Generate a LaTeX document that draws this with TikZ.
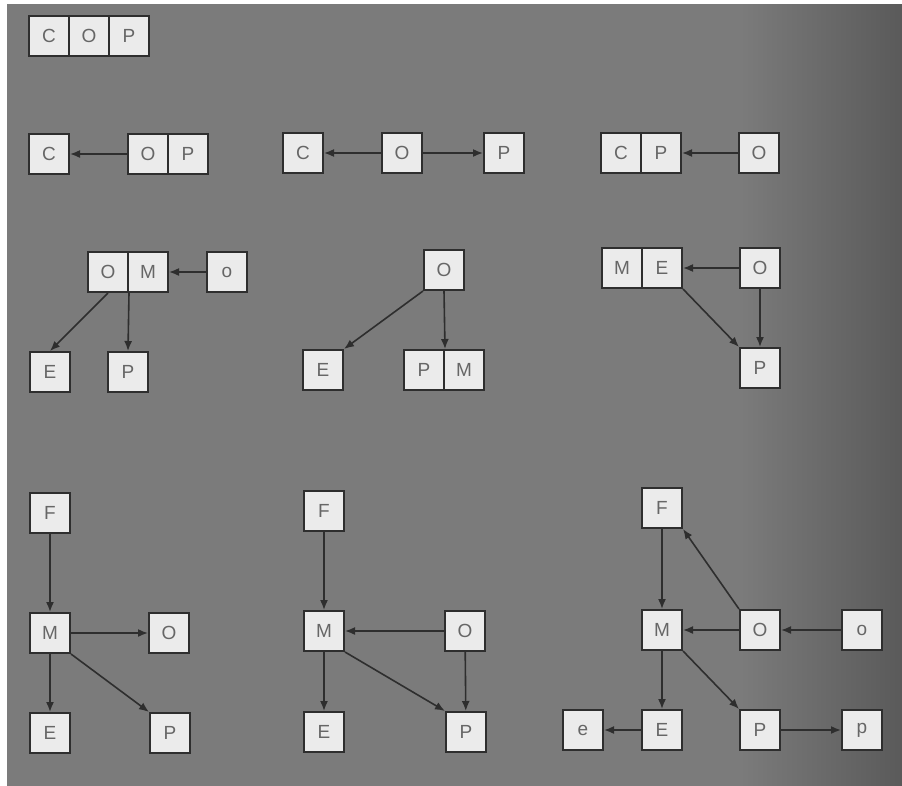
\documentclass[tikz,border=0pt]{standalone}
\usepackage{fontspec}
\setmainfont{Liberation Sans}
\usetikzlibrary{arrows.meta}

\definecolor{boardgrey}{HTML}{7B7B7B}
\definecolor{boarddark}{HTML}{5A5A5A}
\definecolor{boxfill}{HTML}{EBEBEB}
\definecolor{boxline}{HTML}{2E2E2E}
\definecolor{lettergrey}{HTML}{666666}

\begin{document}
\begin{tikzpicture}[x=1pt, y=-1pt,
    box/.style={draw=boxline, line width=2pt, fill=boxfill, minimum size=40pt,
        inner sep=0pt, text=lettergrey, font=\fontsize{19}{23}\selectfont},
    link/.style={draw=boxline, line width=1.6pt, -{Latex[length=10pt, width=8pt]}}]

    \useasboundingbox (0,0) rectangle (902,785);
    \clip (0,0) rectangle (902,785);
    % grey board behind the boxes
    \fill[boardgrey] (7,4) rectangle (910,795);
    \shade[left color=boardgrey, right color=boarddark] (740,4) rectangle (902,795);

    % row 1
    \node[box] (aC) at (49, 36) {C};
    \node[box] (aO) at (89, 36) {O};
    \node[box] (aP) at (129, 36) {P};

    % row 2, left
    \node[box] (bC) at (49, 154) {C};
    \node[box] (bO) at (148, 154) {O};
    \node[box] (bP) at (188, 154) {P};
    \draw[link] (bO) -- (bC);

    % row 2, middle
    \node[box] (cC) at (303, 153) {C};
    \node[box] (cO) at (402, 153) {O};
    \node[box] (cP) at (504, 153) {P};
    \draw[link] (cO) -- (cC);
    \draw[link] (cO) -- (cP);

    % row 2, right
    \node[box] (dC) at (621, 153) {C};
    \node[box] (dP) at (661, 153) {P};
    \node[box] (dO) at (759, 153) {O};
    \draw[link] (dO) -- (dP);

    % row 3, left
    \node[box] (eO) at (108, 272) {O};
    \node[box] (eM) at (148, 272) {M};
    \node[box] (eo) at (227, 272) {o};
    \node[box] (eE) at (50, 372) {E};
    \node[box] (eP) at (128, 372) {P};
    \draw[link] (eo) -- (eM);
    \draw[link] (eO.south) -- (eE.north);
    \draw[link] (eO.south east) -- (eP.north);

    % row 3, middle
    \node[box] (fO) at (444, 270) {O};
    \node[box] (fE) at (323, 370) {E};
    \node[box] (fP) at (424, 370) {P};
    \node[box] (fM) at (464, 370) {M};
    \draw[link] (fO.south west) -- (fE.north east);
    \draw[link] (fO.south) -- (fP.north east);

    % row 3, right
    \node[box] (gM) at (622, 268) {M};
    \node[box] (gE) at (662, 268) {E};
    \node[box] (gO) at (760, 268) {O};
    \node[box] (gP) at (760, 368) {P};
    \draw[link] (gO) -- (gE);
    \draw[link] (gE.south east) -- (gP.north west);
    \draw[link] (gO) -- (gP);

    % row 4, left
    \node[box] (hF) at (50, 513) {F};
    \node[box] (hM) at (50, 633) {M};
    \node[box] (hO) at (169, 633) {O};
    \node[box] (hE) at (50, 733) {E};
    \node[box] (hP) at (170, 733) {P};
    \draw[link] (hF) -- (hM);
    \draw[link] (hM) -- (hO);
    \draw[link] (hM) -- (hE);
    \draw[link] (hM.south east) -- (hP.north west);

    % row 4, middle
    \node[box] (iF) at (324, 511) {F};
    \node[box] (iM) at (324, 631) {M};
    \node[box] (iO) at (465, 631) {O};
    \node[box] (iE) at (324, 732) {E};
    \node[box] (iP) at (466, 732) {P};
    \draw[link] (iF) -- (iM);
    \draw[link] (iO) -- (iM);
    \draw[link] (iM) -- (iE);
    \draw[link] (iM.south east) -- (iP.north west);
    \draw[link] (iO) -- (iP);

    % row 4, right
    \node[box] (jF) at (662, 508) {F};
    \node[box] (jM) at (662, 630) {M};
    \node[box] (jO) at (760, 630) {O};
    \node[box] (jo) at (862, 630) {o};
    \node[box] (je) at (583, 730) {e};
    \node[box] (jE) at (662, 730) {E};
    \node[box] (jP) at (760, 730) {P};
    \node[box] (jp) at (862, 730) {p};
    \draw[link] (jF) -- (jM);
    \draw[link] (jO.north west) -- (jF.south east);
    \draw[link] (jO) -- (jM);
    \draw[link] (jo) -- (jO);
    \draw[link] (jM) -- (jE);
    \draw[link] (jM.south east) -- (jP.north west);
    \draw[link] (jE) -- (je);
    \draw[link] (jP) -- (jp);

\end{tikzpicture}
\end{document}
